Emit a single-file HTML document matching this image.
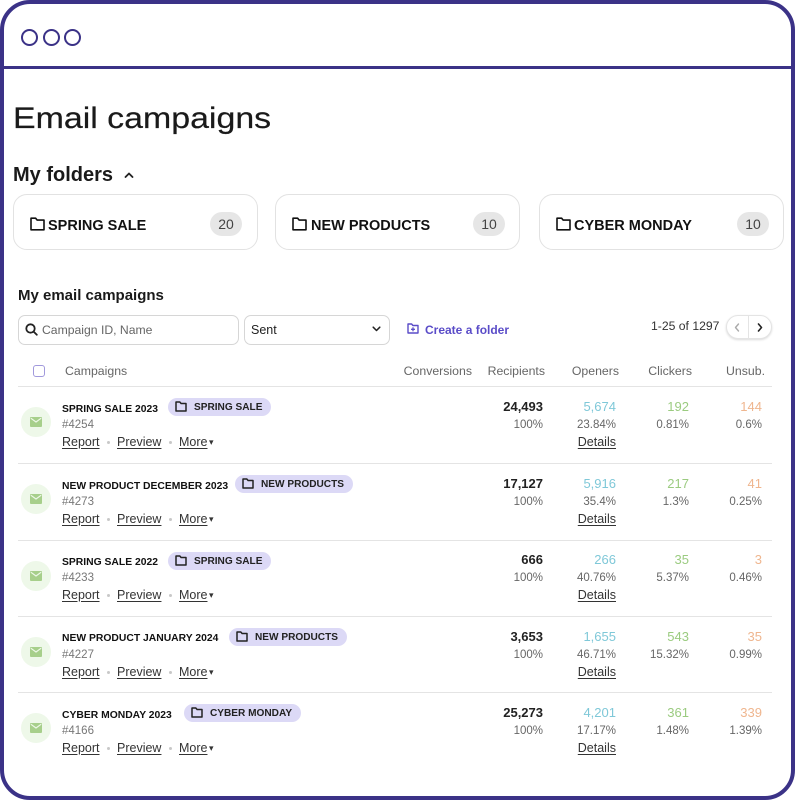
<!DOCTYPE html>
<html><head><meta charset="utf-8">
<style>
*{margin:0;padding:0;box-sizing:border-box;}
html,body{width:800px;height:800px;background:#fff;overflow:hidden;}
body{position:relative;font-family:"Liberation Sans",Arial,sans-serif;color:#1a1a1a;}
.a{position:absolute;white-space:nowrap;}
.frame{position:absolute;left:0;top:0;width:795px;height:800px;border:4px solid #3b3287;border-radius:30px;}
.div{position:absolute;left:0;top:66px;width:795px;height:3px;background:#3b3287;}
.dot{position:absolute;width:17px;height:17px;border:2.4px solid #3b3287;border-radius:50%;top:29px;}
.card{position:absolute;top:194px;height:56px;width:245px;border:1px solid #e2e2e2;border-radius:14px;background:#fff;}
.ctext{position:absolute;top:218px;font-size:14.5px;font-weight:bold;line-height:17px;color:#111;}
.cnt{position:absolute;top:212px;height:24px;width:32px;border-radius:12px;background:#e6e6e6;font-size:14px;line-height:24px;text-align:center;color:#444;}
.hdr{position:absolute;top:363px;font-size:12.3px;line-height:16px;color:#666;}
.line{position:absolute;left:18px;width:754px;height:1px;background:#e4e4e4;}
.icon{position:absolute;left:21px;width:30px;height:30px;border-radius:50%;background:#eef8e9;}
.icon svg{position:absolute;left:9px;top:10px;}
.title{position:absolute;left:62px;font-size:10.35px;font-weight:bold;line-height:14px;color:#111;}
.badge{position:absolute;height:18px;border-radius:9px;background:#dcd9f6;padding:1px 9px 0 26px;font-size:10.1px;font-weight:bold;line-height:17px;color:#222;white-space:nowrap;}
.badge svg{position:absolute;left:7px;top:3px;}
.id{position:absolute;left:62px;font-size:11.5px;line-height:14px;color:#777;}
.lnk{position:absolute;font-size:12.5px;line-height:16px;color:#333;text-decoration:underline;text-underline-offset:2px;white-space:nowrap;}
.sep{position:absolute;width:3px;height:3px;border-radius:50%;background:#c8c8c8;}
.num{position:absolute;font-size:13px;line-height:14px;text-align:right;white-space:nowrap;}
.pct{position:absolute;font-size:11.5px;line-height:14px;color:#666;text-align:right;white-space:nowrap;}
.b{font-weight:bold;color:#222;}
.cy{color:#7fc8d8;}
.gr{color:#9bcb80;}
.pe{color:#efb68f;}
</style></head><body>
<div class="frame"></div>
<div class="div"></div>
<div class="dot" style="left:21px"></div>
<div class="dot" style="left:43px"></div>
<div class="dot" style="left:64px"></div>

<div class="a" style="left:13px;top:99px;font-size:30px;line-height:40px;color:#1a1a1a;transform:scaleX(1.13);transform-origin:left center;-webkit-text-stroke:0.2px #1a1a1a;">Email campaigns</div>

<div class="a" style="left:13px;top:163px;font-size:20px;font-weight:bold;line-height:24px;color:#1a1a1a;">My folders</div>
<svg class="a" style="left:124px;top:171px" width="10" height="8" viewBox="0 0 10 8"><polyline points="1.5,6 5,2.5 8.5,6" fill="none" stroke="#222" stroke-width="1.8" stroke-linecap="round" stroke-linejoin="round"/></svg>

<div class="card" style="left:13px"></div>
<div class="card" style="left:275px"></div>
<div class="card" style="left:539px"></div>
<svg class="a" style="left:30px;top:217px" width="15" height="14" viewBox="0 0 15 14"><path d="M1 1.2h4.6l1.6 1.9h6.8v9.7H1z" fill="none" stroke="#111" stroke-width="1.6" stroke-linejoin="round"/></svg>
<svg class="a" style="left:292px;top:217px" width="15" height="14" viewBox="0 0 15 14"><path d="M1 1.2h4.6l1.6 1.9h6.8v9.7H1z" fill="none" stroke="#111" stroke-width="1.6" stroke-linejoin="round"/></svg>
<svg class="a" style="left:556px;top:217px" width="15" height="14" viewBox="0 0 15 14"><path d="M1 1.2h4.6l1.6 1.9h6.8v9.7H1z" fill="none" stroke="#111" stroke-width="1.6" stroke-linejoin="round"/></svg>
<div class="ctext" style="left:48px">SPRING SALE</div>
<div class="ctext" style="left:311px">NEW PRODUCTS</div>
<div class="ctext" style="left:574px">CYBER MONDAY</div>
<div class="cnt" style="left:210px">20</div>
<div class="cnt" style="left:473px">10</div>
<div class="cnt" style="left:737px">10</div>

<div class="a" style="left:18px;top:287px;font-size:15px;font-weight:bold;line-height:18px;color:#1a1a1a;">My email campaigns</div>

<div class="a" style="left:18px;top:315px;width:221px;height:30px;border:1px solid #d6d6d6;border-radius:7px;"></div>
<svg class="a" style="left:25px;top:323px" width="13" height="13" viewBox="0 0 13 13"><circle cx="5.5" cy="5.5" r="4.2" fill="none" stroke="#222" stroke-width="1.8"/><line x1="8.6" y1="8.6" x2="11.8" y2="11.8" stroke="#222" stroke-width="1.8" stroke-linecap="round"/></svg>
<div class="a" style="left:42px;top:322px;font-size:12.2px;line-height:16px;color:#666;">Campaign ID, Name</div>

<div class="a" style="left:244px;top:315px;width:146px;height:30px;border:1px solid #d6d6d6;border-radius:7px;"></div>
<div class="a" style="left:251px;top:322px;font-size:12.5px;line-height:16px;color:#222;">Sent</div>
<svg class="a" style="left:372px;top:326px" width="9" height="6" viewBox="0 0 9 6"><polyline points="1.2,1.2 4.5,4.5 7.8,1.2" fill="none" stroke="#222" stroke-width="1.5" stroke-linecap="round" stroke-linejoin="round"/></svg>

<svg class="a" style="left:407px;top:323px" width="12" height="11" viewBox="0 0 12 11"><path d="M1 1h3.6l1.3 1.5H11v7.5H1z" fill="none" stroke="#5a4cc8" stroke-width="1.4" stroke-linejoin="round"/><line x1="6" y1="4.3" x2="6" y2="8.3" stroke="#5a4cc8" stroke-width="1.3"/><line x1="4" y1="6.3" x2="8" y2="6.3" stroke="#5a4cc8" stroke-width="1.3"/></svg>
<div class="a" style="left:425px;top:322px;font-size:12px;font-weight:bold;line-height:16px;color:#5a4cc8;">Create a folder</div>

<div class="a" style="left:651px;top:318px;font-size:12.2px;line-height:16px;color:#333;">1-25 of 1297</div>
<div class="a" style="left:726px;top:315px;width:46px;height:24px;border:1px solid #e4e4e4;border-radius:12px;background:#fff;box-shadow:0 1px 2px rgba(0,0,0,0.15);"></div>
<div class="a" style="left:748px;top:316px;width:1px;height:22px;background:#e4e4e4;"></div>
<svg class="a" style="left:734px;top:323px" width="6" height="9" viewBox="0 0 6 9"><polyline points="4.5,1 1.5,4.5 4.5,8" fill="none" stroke="#aaa" stroke-width="1.4" stroke-linecap="round" stroke-linejoin="round"/></svg>
<svg class="a" style="left:757px;top:323px" width="6" height="9" viewBox="0 0 6 9"><polyline points="1.5,1 4.5,4.5 1.5,8" fill="none" stroke="#222" stroke-width="1.6" stroke-linecap="round" stroke-linejoin="round"/></svg>

<div class="a" style="left:33px;top:365px;width:12px;height:12px;border:1.5px solid #a199dc;border-radius:3px;"></div>
<div class="hdr" style="left:65px;">Campaigns</div>
<div class="hdr" style="right:328px;">Conversions</div>
<div class="hdr" style="right:255px;">Recipients</div>
<div class="hdr" style="right:181px;">Openers</div>
<div class="hdr" style="right:108px;">Clickers</div>
<div class="hdr" style="right:35px;">Unsub.</div>

<div class="line" style="top:386px"></div>
<div class="line" style="top:463px"></div>
<div class="line" style="top:540px"></div>
<div class="line" style="top:616px"></div>
<div class="line" style="top:692px"></div>

<!-- ROW 1 : T=386 -->
<div class="icon" style="top:407px"><svg width="12" height="10" viewBox="0 0 12 10"><rect x="0" y="0" width="12" height="10" rx="1" fill="#a7cf8b"/><polyline points="0.8,1.2 6,5 11.2,1.2" fill="none" stroke="#eef8e9" stroke-width="1.2"/></svg></div>
<div class="title" style="top:403px">SPRING SALE 2023</div>
<div class="badge" style="left:168px;top:398px"><svg width="12" height="11" viewBox="0 0 12 11"><path d="M1 1h3.8l1.3 1.5H11v7.5H1z" fill="none" stroke="#222" stroke-width="1.5" stroke-linejoin="round"/></svg>SPRING SALE</div>
<div class="id" style="top:418px">#4254</div>
<div class="lnk" style="left:62px;top:434px">Report</div>
<div class="sep" style="left:107px;top:441px"></div>
<div class="lnk" style="left:117px;top:434px">Preview</div>
<div class="sep" style="left:169px;top:441px"></div>
<div class="lnk" style="left:179px;top:434px">More</div>
<div class="a" style="left:209px;top:434px;font-size:9px;line-height:16px;color:#333;">▾</div>
<div class="num b" style="right:257px;top:400px">24,493</div>
<div class="pct" style="right:257px;top:418px">100%</div>
<div class="num cy" style="right:184px;top:400px">5,674</div>
<div class="pct" style="right:184px;top:418px">23.84%</div>
<div class="lnk" style="right:184px;top:434px">Details</div>
<div class="num gr" style="right:111px;top:400px">192</div>
<div class="pct" style="right:111px;top:418px">0.81%</div>
<div class="num pe" style="right:38px;top:400px">144</div>
<div class="pct" style="right:38px;top:418px">0.6%</div>

<!-- ROW 2 : T=463 -->
<div class="icon" style="top:484px"><svg width="12" height="10" viewBox="0 0 12 10"><rect x="0" y="0" width="12" height="10" rx="1" fill="#a7cf8b"/><polyline points="0.8,1.2 6,5 11.2,1.2" fill="none" stroke="#eef8e9" stroke-width="1.2"/></svg></div>
<div class="title" style="top:480px">NEW PRODUCT DECEMBER 2023</div>
<div class="badge" style="left:235px;top:475px"><svg width="12" height="11" viewBox="0 0 12 11"><path d="M1 1h3.8l1.3 1.5H11v7.5H1z" fill="none" stroke="#222" stroke-width="1.5" stroke-linejoin="round"/></svg>NEW PRODUCTS</div>
<div class="id" style="top:495px">#4273</div>
<div class="lnk" style="left:62px;top:511px">Report</div>
<div class="sep" style="left:107px;top:518px"></div>
<div class="lnk" style="left:117px;top:511px">Preview</div>
<div class="sep" style="left:169px;top:518px"></div>
<div class="lnk" style="left:179px;top:511px">More</div>
<div class="a" style="left:209px;top:511px;font-size:9px;line-height:16px;color:#333;">▾</div>
<div class="num b" style="right:257px;top:477px">17,127</div>
<div class="pct" style="right:257px;top:495px">100%</div>
<div class="num cy" style="right:184px;top:477px">5,916</div>
<div class="pct" style="right:184px;top:495px">35.4%</div>
<div class="lnk" style="right:184px;top:511px">Details</div>
<div class="num gr" style="right:111px;top:477px">217</div>
<div class="pct" style="right:111px;top:495px">1.3%</div>
<div class="num pe" style="right:38px;top:477px">41</div>
<div class="pct" style="right:38px;top:495px">0.25%</div>

<!-- ROW 3 : T=540 -->
<div class="icon" style="top:561px"><svg width="12" height="10" viewBox="0 0 12 10"><rect x="0" y="0" width="12" height="10" rx="1" fill="#a7cf8b"/><polyline points="0.8,1.2 6,5 11.2,1.2" fill="none" stroke="#eef8e9" stroke-width="1.2"/></svg></div>
<div class="title" style="top:556px">SPRING SALE 2022</div>
<div class="badge" style="left:168px;top:552px"><svg width="12" height="11" viewBox="0 0 12 11"><path d="M1 1h3.8l1.3 1.5H11v7.5H1z" fill="none" stroke="#222" stroke-width="1.5" stroke-linejoin="round"/></svg>SPRING SALE</div>
<div class="id" style="top:571px">#4233</div>
<div class="lnk" style="left:62px;top:587px">Report</div>
<div class="sep" style="left:107px;top:594px"></div>
<div class="lnk" style="left:117px;top:587px">Preview</div>
<div class="sep" style="left:169px;top:594px"></div>
<div class="lnk" style="left:179px;top:587px">More</div>
<div class="a" style="left:209px;top:587px;font-size:9px;line-height:16px;color:#333;">▾</div>
<div class="num b" style="right:257px;top:553px">666</div>
<div class="pct" style="right:257px;top:571px">100%</div>
<div class="num cy" style="right:184px;top:553px">266</div>
<div class="pct" style="right:184px;top:571px">40.76%</div>
<div class="lnk" style="right:184px;top:587px">Details</div>
<div class="num gr" style="right:111px;top:553px">35</div>
<div class="pct" style="right:111px;top:571px">5.37%</div>
<div class="num pe" style="right:38px;top:553px">3</div>
<div class="pct" style="right:38px;top:571px">0.46%</div>

<!-- ROW 4 : T=616 -->
<div class="icon" style="top:637px"><svg width="12" height="10" viewBox="0 0 12 10"><rect x="0" y="0" width="12" height="10" rx="1" fill="#a7cf8b"/><polyline points="0.8,1.2 6,5 11.2,1.2" fill="none" stroke="#eef8e9" stroke-width="1.2"/></svg></div>
<div class="title" style="top:632px">NEW PRODUCT JANUARY 2024</div>
<div class="badge" style="left:229px;top:628px"><svg width="12" height="11" viewBox="0 0 12 11"><path d="M1 1h3.8l1.3 1.5H11v7.5H1z" fill="none" stroke="#222" stroke-width="1.5" stroke-linejoin="round"/></svg>NEW PRODUCTS</div>
<div class="id" style="top:648px">#4227</div>
<div class="lnk" style="left:62px;top:664px">Report</div>
<div class="sep" style="left:107px;top:671px"></div>
<div class="lnk" style="left:117px;top:664px">Preview</div>
<div class="sep" style="left:169px;top:671px"></div>
<div class="lnk" style="left:179px;top:664px">More</div>
<div class="a" style="left:209px;top:664px;font-size:9px;line-height:16px;color:#333;">▾</div>
<div class="num b" style="right:257px;top:630px">3,653</div>
<div class="pct" style="right:257px;top:648px">100%</div>
<div class="num cy" style="right:184px;top:630px">1,655</div>
<div class="pct" style="right:184px;top:648px">46.71%</div>
<div class="lnk" style="right:184px;top:664px">Details</div>
<div class="num gr" style="right:111px;top:630px">543</div>
<div class="pct" style="right:111px;top:648px">15.32%</div>
<div class="num pe" style="right:38px;top:630px">35</div>
<div class="pct" style="right:38px;top:648px">0.99%</div>

<!-- ROW 5 : T=692 -->
<div class="icon" style="top:713px"><svg width="12" height="10" viewBox="0 0 12 10"><rect x="0" y="0" width="12" height="10" rx="1" fill="#a7cf8b"/><polyline points="0.8,1.2 6,5 11.2,1.2" fill="none" stroke="#eef8e9" stroke-width="1.2"/></svg></div>
<div class="title" style="top:709px">CYBER MONDAY 2023</div>
<div class="badge" style="left:184px;top:704px"><svg width="12" height="11" viewBox="0 0 12 11"><path d="M1 1h3.8l1.3 1.5H11v7.5H1z" fill="none" stroke="#222" stroke-width="1.5" stroke-linejoin="round"/></svg>CYBER MONDAY</div>
<div class="id" style="top:724px">#4166</div>
<div class="lnk" style="left:62px;top:740px">Report</div>
<div class="sep" style="left:107px;top:747px"></div>
<div class="lnk" style="left:117px;top:740px">Preview</div>
<div class="sep" style="left:169px;top:747px"></div>
<div class="lnk" style="left:179px;top:740px">More</div>
<div class="a" style="left:209px;top:740px;font-size:9px;line-height:16px;color:#333;">▾</div>
<div class="num b" style="right:257px;top:706px">25,273</div>
<div class="pct" style="right:257px;top:724px">100%</div>
<div class="num cy" style="right:184px;top:706px">4,201</div>
<div class="pct" style="right:184px;top:724px">17.17%</div>
<div class="lnk" style="right:184px;top:740px">Details</div>
<div class="num gr" style="right:111px;top:706px">361</div>
<div class="pct" style="right:111px;top:724px">1.48%</div>
<div class="num pe" style="right:38px;top:706px">339</div>
<div class="pct" style="right:38px;top:724px">1.39%</div>
</body></html>
